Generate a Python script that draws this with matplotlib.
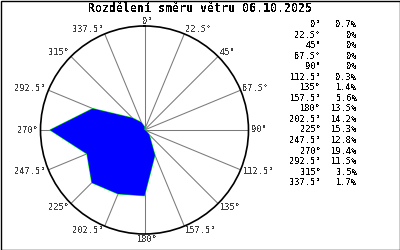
import numpy as np
import matplotlib
matplotlib.use("Agg")
import matplotlib.pyplot as plt
from matplotlib.patches import Rectangle
from matplotlib.transforms import offset_copy

plt.rcParams['font.family'] = ['DejaVu Sans Mono']
plt.rcParams['text.antialiased'] = False

title = "Rozdělení směru větru 06.10.2025"
directions = [0, 22.5, 45, 67.5, 90, 112.5, 135, 157.5, 180, 202.5, 225, 247.5, 270, 292.5, 315, 337.5]
percents = [0.7, 0, 0, 0, 0, 0.3, 1.4, 5.6, 13.5, 14.2, 15.3, 12.8, 19.4, 11.5, 3.5, 1.7]

W, H = 400, 250
fig = plt.figure(figsize=(4, 2.5), dpi=100)
fig.patch.set_facecolor('white')

ax = fig.add_axes([40.5 / W, 16 / H, 208 / W, 208 / H], projection='polar')
ax.set_theta_zero_location('N')
ax.set_theta_direction(-1)
rmax = max(percents) * 1.1
ax.set_ylim(0, rmax)

theta = np.deg2rad(directions)
th_closed = np.append(theta, theta[0])
r_closed = np.append(percents, percents[0])
ax.plot(th_closed, r_closed, color='#00ff00', lw=0.8, zorder=3)
ax.fill(th_closed, r_closed, color='#0000ff', lw=0, zorder=4)

ax.set_xticks(theta)
ax.set_xticklabels([])
ax.set_yticks([])
ax.grid(True, axis='x', color='#7a7a7a', lw=0.75)
ax.grid(False, axis='y')
ax.spines['polar'].set_color('black')
ax.spines['polar'].set_linewidth(1.2)
ax.set_facecolor('white')

for d, th in zip(directions, theta):
    s, c = np.sin(th), np.cos(th)
    if s > 0.01:
        ha = 'left'
    elif s < -0.01:
        ha = 'right'
    else:
        ha = 'center'
    dx = 2.5 * s + (3 if ha == 'center' else 0)
    dy = 5.0 * c
    tr = offset_copy(ax.transData, fig=fig, x=dx * 0.72, y=dy * 0.72, units='points')
    ax.text(th, rmax, f"{d:g}°", ha=ha, va='center', fontsize=6.2,
            color='#404040', transform=tr, clip_on=False)

fig.text(199.5 / W, 1 - 9 / H, title, ha='center', va='center',
         fontsize=8.4, fontweight='bold', color='black')

for i, (d, p) in enumerate(zip(directions, percents)):
    y = 1 - (24.5 + i * 10.55) / H
    fig.text(321 / W, y, f"{d:g}°", ha='right', va='center', fontsize=6.2, color='black')
    fig.text(357 / W, y, f"{p:g}%", ha='right', va='center', fontsize=6.2, color='black')

fig.add_artist(Rectangle((0.5 / W, 0.5 / H), 1 - 1.0 / W, 1 - 1.0 / H, transform=fig.transFigure,
                         fill=False, edgecolor='black', lw=1.0))

fig.savefig('out.png', dpi=100)
